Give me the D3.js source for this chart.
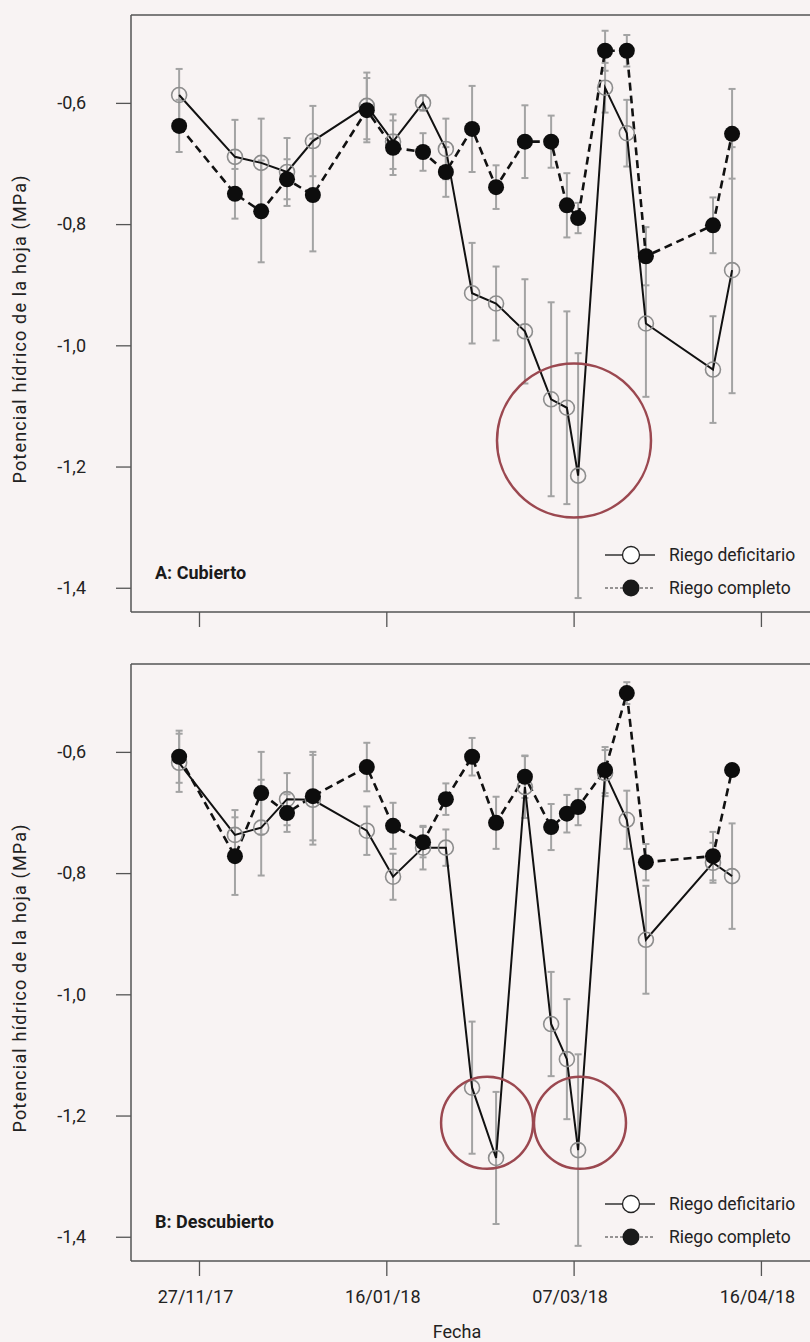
<!DOCTYPE html>
<html>
<head>
<meta charset="utf-8">
<script src="https://cdn.jsdelivr.net/npm/d3@7/dist/d3.min.js"></script>
<style>
  html, body { margin: 0; padding: 0; background: #f8f3f3; }
  svg { display: block; font-family: Roboto, "Noto Sans", sans-serif; }
</style>
</head>
<body>
<svg id="chart" width="810" height="1342"></svg>
<script>
// ---- Data ----
// x positions of sampling dates, in days counted on the axis (27/11/17 = 0, ticks every 50)
const fechaPos = [-5.3, 9.6, 16.6, 23.5, 30.4, 44.8, 51.8, 59.8, 65.9, 72.9,
                  79.3, 87.0, 94.0, 98.2, 101.2, 108.4, 114.2, 119.3, 137.2, 142.3];

const xTickValues = [0, 50, 100, 150];
const xTickLabels = ["27/11/17", "16/01/18", "07/03/18", "16/04/18"];
const yTickValues = [-0.6, -0.8, -1.0, -1.2, -1.4];
const yTickLabels = ["-0,6", "-0,8", "-1,0", "-1,2", "-1,4"];

// Panel A: Cubierto
const cubDeficitario = [-0.587, -0.689, -0.699, -0.714, -0.663, -0.605, -0.664, -0.600, -0.676, -0.914,
                        -0.931, -0.977, -1.089, -1.103, -1.215, -0.575, -0.650, -0.964, -1.040, -0.876];
const cubDeficitarioErr = [0.043, 0.061, 0.073, 0.056, 0.058, 0.055, 0.045, 0.013, 0.050, 0.083,
                           0.061, 0.086, 0.160, 0.159, 0.202, 0.041, 0.055, 0.121, 0.088, 0.203];
const cubCompleto = [-0.638, -0.750, -0.779, -0.726, -0.752, -0.612, -0.674, -0.681, -0.714, -0.643,
                     -0.739, -0.664, -0.664, -0.769, -0.790, -0.514, -0.514, -0.853, -0.802, -0.651];
const cubCompletoErr = [0.043, 0.041, 0.084, 0.033, 0.093, 0.053, 0.045, 0.031, 0.041, 0.071,
                        0.036, 0.060, 0.043, 0.053, 0.025, 0.033, 0.026, 0.048, 0.046, 0.074];

// Panel B: Descubierto
const desDeficitario = [-0.618, -0.737, -0.725, -0.678, -0.679, -0.730, -0.806, -0.758, -0.758, -1.154,
                        -1.270, -0.658, -1.049, -1.107, -1.257, -0.635, -0.712, -0.910, -0.783, -0.805];
const desDeficitarioErr = [0.048, 0.041, 0.079, 0.043, 0.074, 0.040, 0.038, 0.036, 0.030, 0.109,
                           0.109, 0.051, 0.086, 0.099, 0.158, 0.038, 0.048, 0.089, 0.033, 0.087];
const desCompleto = [-0.608, -0.772, -0.668, -0.701, -0.673, -0.625, -0.722, -0.749, -0.678, -0.608,
                     -0.717, -0.641, -0.724, -0.702, -0.691, -0.630, -0.503, -0.782, -0.772, -0.630];
const desCompletoErr = [0.043, 0.064, 0.068, 0.031, 0.073, 0.040, 0.038, 0.025, 0.026, 0.031,
                        0.043, 0.035, 0.038, 0.031, 0.030, 0.038, 0.018, 0.030, 0.040, 0.007];

// Highlight circles (data coordinates: axis days, MPa)
const cubHighlights = [{x: 100.1, y: -1.157, r: 77}];
const desHighlights = [{x: 76.9, y: -1.212, r: 46}, {x: 101.7, y: -1.212, r: 46}];

const seriesNames = ["Riego deficitario", "Riego completo"];
const panelLabels = ["A: Cubierto", "B: Descubierto"];
const yTitle = "Potencial hídrico de la hoja (MPa)";
const xTitle = "Fecha";

// ---- Layout ----
const svg = d3.select("#chart");
const left = 131, right = 810;
const x = d3.scaleLinear().domain([-18.15, 163.1]).range([left, right]);
const yDomain = [-1.44, -0.455];

const panels = [
  { top: 15, bottom: 612, label: panelLabels[0], def: cubDeficitario, defErr: cubDeficitarioErr,
    comp: cubCompleto, compErr: cubCompletoErr, hl: cubHighlights, showX: false },
  { top: 664, bottom: 1261, label: panelLabels[1], def: desDeficitario, defErr: desDeficitarioErr,
    comp: desCompleto, compErr: desCompletoErr, hl: desHighlights, showX: true }
];

const frameColor = "#555";
const errColor = "#a3a3a3";

panels.forEach(p => {
  const y = d3.scaleLinear().domain(yDomain).range([p.bottom, p.top]);
  const g = svg.append("g");

  // frame: top, left, bottom
  g.append("line").attr("x1", left).attr("x2", right).attr("y1", p.top).attr("y2", p.top)
    .attr("stroke", frameColor).attr("stroke-width", 1.5);
  g.append("line").attr("x1", left).attr("x2", right).attr("y1", p.bottom).attr("y2", p.bottom)
    .attr("stroke", frameColor).attr("stroke-width", 1.5);
  g.append("line").attr("x1", left).attr("x2", left).attr("y1", p.top).attr("y2", p.bottom)
    .attr("stroke", frameColor).attr("stroke-width", 1.5);

  // y axis
  const yAxis = d3.axisLeft(y).tickValues(yTickValues)
    .tickFormat((d, i) => yTickLabels[i]).tickSize(15).tickPadding(30);
  const ya = g.append("g").attr("transform", `translate(${left},0)`).call(yAxis);
  ya.select(".domain").remove();
  ya.selectAll(".tick line").attr("stroke", frameColor).attr("stroke-width", 1.3);
  ya.selectAll(".tick text").attr("font-size", 18).attr("fill", "#222")
    .attr("font-family", "Roboto, sans-serif");

  // x axis
  const xAxis = d3.axisBottom(x).tickValues(xTickValues)
    .tickFormat((d, i) => p.showX ? xTickLabels[i] : "").tickSize(15).tickPadding(14);
  const xa = g.append("g").attr("transform", `translate(0,${p.bottom})`).call(xAxis);
  xa.select(".domain").remove();
  xa.selectAll(".tick line").attr("stroke", frameColor).attr("stroke-width", 1.3);
  xa.selectAll(".tick text").attr("font-size", 18).attr("fill", "#222")
    .attr("font-family", "Roboto, sans-serif").attr("dx", "-4");

  // y title
  g.append("text")
    .attr("transform", `translate(26,${(p.top + p.bottom) / 2 + 16}) rotate(-90)`)
    .attr("text-anchor", "middle").attr("font-size", 18).attr("fill", "#222")
    .attr("textLength", 308).attr("lengthAdjust", "spacing")
    .text(yTitle);

  // data
  const defData = fechaPos.map((d, i) => ({x: d, y: p.def[i], e: p.defErr[i]}));
  const compData = fechaPos.map((d, i) => ({x: d, y: p.comp[i], e: p.compErr[i]}));

  // error bars
  [defData, compData].forEach(data => {
    const eb = g.append("g").attr("stroke", errColor).attr("stroke-width", 2).attr("fill", "none");
    data.forEach(d => {
      const xx = x(d.x), y1 = y(d.y + d.e), y2 = y(d.y - d.e);
      eb.append("line").attr("x1", xx).attr("x2", xx).attr("y1", y1).attr("y2", y2);
      eb.append("line").attr("x1", xx - 3.5).attr("x2", xx + 3.5).attr("y1", y1).attr("y2", y1);
      eb.append("line").attr("x1", xx - 3.5).attr("x2", xx + 3.5).attr("y1", y2).attr("y2", y2);
    });
  });

  const line = d3.line().x(d => x(d.x)).y(d => y(d.y));
  g.append("path").datum(compData).attr("d", line).attr("fill", "none")
    .attr("stroke", "#111").attr("stroke-width", 2.6).attr("stroke-dasharray", "8,5");
  g.append("path").datum(defData).attr("d", line).attr("fill", "none")
    .attr("stroke", "#111").attr("stroke-width", 2);

  g.selectAll(".open").data(defData).enter().append("circle")
    .attr("cx", d => x(d.x)).attr("cy", d => y(d.y)).attr("r", 7.5)
    .attr("fill", "none").attr("stroke", "#8d8d8d").attr("stroke-width", 1.6);
  g.selectAll(".filled").data(compData).enter().append("circle")
    .attr("cx", d => x(d.x)).attr("cy", d => y(d.y)).attr("r", 8)
    .attr("fill", "#0d0d0d");

  // highlight circles
  p.hl.forEach(h => {
    g.append("circle").attr("cx", x(h.x)).attr("cy", y(h.y)).attr("r", h.r)
      .attr("fill", "none").attr("stroke", "#9b4850").attr("stroke-width", 2.5);
  });

  // panel label
  g.append("text").attr("x", 155).attr("y", p.bottom - 33)
    .attr("font-size", 18).attr("font-weight", "bold").attr("fill", "#1a1a1a")
    .text(p.label);

  // legend
  const lg = g.append("g");
  const ly1 = p.bottom - 57, ly2 = p.bottom - 24;
  lg.append("line").attr("x1", 605).attr("x2", 655).attr("y1", ly1).attr("y2", ly1)
    .attr("stroke", "#333").attr("stroke-width", 1.3);
  lg.append("circle").attr("cx", 631).attr("cy", ly1).attr("r", 8.5)
    .attr("fill", "#fff").attr("stroke", "#222").attr("stroke-width", 1.3);
  lg.append("text").attr("x", 669).attr("y", ly1).attr("dy", "0.35em")
    .attr("font-size", 17.5).attr("fill", "#222").text(seriesNames[0]);
  lg.append("line").attr("x1", 605).attr("x2", 655).attr("y1", ly2).attr("y2", ly2)
    .attr("stroke", "#333").attr("stroke-width", 1).attr("stroke-dasharray", "3,2");
  lg.append("circle").attr("cx", 631).attr("cy", ly2).attr("r", 8.5).attr("fill", "#1a1a1a");
  lg.append("text").attr("x", 669).attr("y", ly2).attr("dy", "0.35em")
    .attr("font-size", 17.5).attr("fill", "#222").text(seriesNames[1]);
});

// x title
svg.append("text").attr("x", 457).attr("y", 1332).attr("dy", "0.35em")
  .attr("text-anchor", "middle").attr("font-size", 18).attr("fill", "#222").text(xTitle);
</script>
</body>
</html>
